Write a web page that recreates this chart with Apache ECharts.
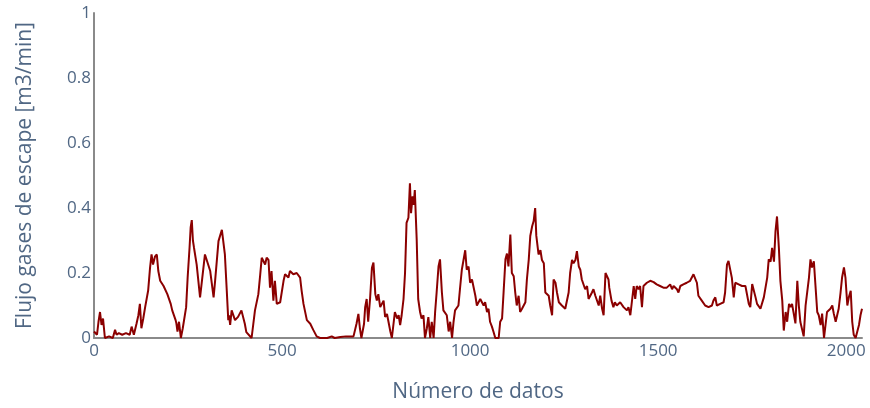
<!DOCTYPE html>
<html>
<head>
<meta charset="utf-8">
<script src="https://cdn.jsdelivr.net/npm/echarts@6/dist/echarts.min.js"></script>
<style>
html,body{margin:0;padding:0;background:#fff;}
#chart{width:870px;height:408px;}
</style>
</head>
<body>
<div id="chart"></div>
<script>
const xTitle = "Número de datos";
const yTitle = "Flujo gases de escape [m3/min]";
const xTicks = [0, 500, 1000, 1500, 2000];
const yTicks = [0, 0.2, 0.4, 0.6, 0.8, 1];

const sampleIndex = [
0,8,12,16,20,24,29,40,50,56,60,66,75,85,95,100,106,113,118,122,126,131,136,144,149,153,157,162,167,171,176,185,195,204,208,217,219,222,226,231,236,245,249,254,257,260,263,266,273,282,287,295,300,309,318,322,331,340,348,353,357,359,362,366,375,383,392,401,405,419,424,428,437,442,446,455,459,464,468,472,477,481,486,495,504,508,517,521,530,539,548,552,557,566,575,583,592,601,620,632,640,655,670,690,694,698,703,707,711,718,721,725,729,734,739,743,748,752,756,761,770,774,779,788,792,796,800,806,810,814,818,823,827,831,836,840,843,847,850,853,858,862,867,871,876,880,885,889,894,898,903,907,911,916,920,925,929,934,938,943,947,952,956,960,969,973,978,982,987,991,996,1000,1005,1014,1018,1027,1036,1040,1045,1049,1053,1058,1062,1067,1076,1080,1085,1089,1094,1098,1102,1107,1111,1116,1120,1124,1129,1133,1138,1142,1147,1151,1156,1160,1165,1169,1173,1176,1182,1187,1191,1196,1200,1205,1209,1213,1218,1222,1227,1231,1236,1244,1253,1262,1266,1271,1275,1280,1284,1289,1293,1297,1306,1311,1315,1324,1328,1333,1342,1346,1351,1355,1360,1364,1368,1370,1376,1381,1385,1390,1399,1408,1417,1421,1426,1430,1435,1439,1443,1448,1452,1457,1461,1470,1479,1488,1496,1505,1514,1523,1532,1537,1541,1550,1554,1559,1567,1576,1585,1594,1599,1603,1607,1612,1616,1620,1625,1634,1643,1647,1652,1656,1665,1674,1678,1683,1687,1692,1696,1701,1705,1714,1723,1732,1736,1741,1745,1750,1754,1759,1763,1768,1772,1777,1781,1785,1790,1794,1799,1803,1808,1812,1816,1821,1825,1830,1834,1839,1843,1848,1852,1856,1861,1865,1870,1874,1878,1883,1887,1892,1896,1901,1905,1909,1914,1918,1923,1927,1932,1936,1941,1945,1949,1954,1958,1963,1967,1972,1976,1980,1985,1989,1994,1998,2003,2007,2012,2016,2020,2025,2034,2038,2042
];
const flowValues = [
0.02,0.01,0.05,0.08,0.04,0.06,0.0,0.005,0.0,0.025,0.01,0.015,0.01,0.015,0.01,0.035,0.01,0.044,0.07,0.105,0.03,0.06,0.095,0.146,0.216,0.257,0.226,0.25,0.257,0.206,0.176,0.16,0.135,0.105,0.085,0.055,0.045,0.02,0.05,0.0,0.03,0.095,0.186,0.277,0.34,0.363,0.30,0.277,0.226,0.125,0.176,0.257,0.26,0.206,0.125,0.176,0.298,0.333,0.257,0.146,0.055,0.07,0.04,0.085,0.055,0.065,0.085,0.044,0.018,0.0,0.005,0.085,0.135,0.196,0.247,0.226,0.247,0.24,0.155,0.206,0.115,0.176,0.105,0.11,0.176,0.196,0.186,0.206,0.196,0.2,0.186,0.146,0.105,0.055,0.044,0.025,0.005,0.0,0.0,0.005,0.0,0.003,0.005,0.005,0.01,0.044,0.074,0.03,0.0,0.044,0.095,0.12,0.05,0.12,0.216,0.232,0.135,0.115,0.135,0.095,0.115,0.065,0.074,0.02,0.0,0.0,0.08,0.06,0.07,0.04,0.07,0.12,0.2,0.354,0.37,0.476,0.384,0.436,0.41,0.455,0.303,0.12,0.08,0.06,0.07,0.0,0.03,0.064,0.0,0.05,0.0,0.08,0.14,0.22,0.242,0.14,0.085,0.09,0.07,0.02,0.05,0.0,0.05,0.085,0.1,0.15,0.21,0.21,0.27,0.21,0.22,0.17,0.18,0.13,0.1,0.12,0.1,0.11,0.08,0.09,0.05,0.035,0.02,0.0,0.0,0.05,0.06,0.14,0.242,0.26,0.22,0.318,0.2,0.19,0.14,0.1,0.13,0.08,0.09,0.09,0.11,0.18,0.242,0.314,0.344,0.36,0.4,0.315,0.257,0.27,0.24,0.23,0.14,0.145,0.13,0.1,0.07,0.18,0.17,0.14,0.11,0.1,0.09,0.14,0.2,0.24,0.23,0.24,0.267,0.22,0.21,0.18,0.15,0.16,0.12,0.14,0.15,0.13,0.1,0.13,0.09,0.07,0.2,0.2,0.18,0.155,0.115,0.095,0.11,0.1,0.11,0.095,0.085,0.095,0.07,0.07,0.16,0.12,0.16,0.15,0.16,0.095,0.16,0.17,0.176,0.172,0.165,0.16,0.155,0.155,0.165,0.15,0.16,0.15,0.14,0.16,0.165,0.17,0.176,0.196,0.2,0.17,0.13,0.135,0.115,0.11,0.1,0.095,0.1,0.115,0.125,0.1,0.105,0.11,0.14,0.226,0.237,0.237,0.185,0.125,0.17,0.165,0.16,0.16,0.155,0.105,0.095,0.166,0.16,0.125,0.105,0.1,0.09,0.095,0.125,0.13,0.186,0.242,0.235,0.277,0.235,0.328,0.374,0.277,0.176,0.115,0.023,0.08,0.05,0.105,0.095,0.105,0.1,0.045,0.176,0.1,0.05,0.025,0.005,0.1,0.105,0.186,0.242,0.217,0.236,0.166,0.08,0.07,0.04,0.075,0.0,0.0,0.08,0.08,0.09,0.1,0.075,0.05,0.07,0.09,0.14,0.186,0.217,0.186,0.1,0.125,0.145,0.05,0.01,0.0,0.04,0.07,0.09
];

const seriesData = sampleIndex.map((x, i) => [x, flowValues[i]]);
const textColor = '#506784';
const font = '"Open Sans", "Noto Sans", sans-serif';

const chart = echarts.init(document.getElementById('chart'), null, {renderer: 'canvas'});
chart.setOption({
  animation: false,
  backgroundColor: '#ffffff',
  grid: {left: 94, right: 8, top: 13, bottom: 67, containLabel: false},
  xAxis: {
    type: 'value',
    min: xTicks[0],
    max: 2042,
    interval: 500,
    name: xTitle,
    nameLocation: 'middle',
    nameGap: 44,
    nameTextStyle: {color: textColor, fontSize: 21, fontFamily: font},
    axisLine: {show: true, lineStyle: {color: '#8a8a8a', width: 2}},
    axisTick: {show: false},
    splitLine: {show: false},
    axisLabel: {color: textColor, fontSize: 17, fontFamily: font, margin: 5,
      showMaxLabel: false, formatter: v => String(v)}
  },
  yAxis: {
    type: 'value',
    min: yTicks[0],
    max: yTicks[yTicks.length - 1],
    interval: 0.2,
    name: yTitle,
    nameLocation: 'middle',
    nameGap: 58,
    nameTextStyle: {color: textColor, fontSize: 21, fontFamily: font},
    axisLine: {show: true, lineStyle: {color: '#8a8a8a', width: 2}},
    axisTick: {show: false},
    splitLine: {show: false},
    axisLabel: {color: textColor, fontSize: 17, fontFamily: font, margin: 3,
      formatter: v => String(Math.round(v * 10) / 10)}
  },
  series: [{
    type: 'line',
    data: seriesData,
    showSymbol: false,
    symbol: 'none',
    lineStyle: {color: '#8b0000', width: 2},
    itemStyle: {color: '#8b0000'}
  }]
});
</script>
</body>
</html>
